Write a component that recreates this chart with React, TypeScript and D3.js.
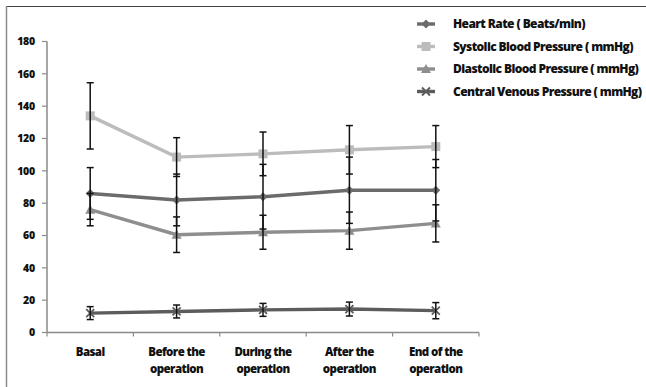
import React from "react";
import * as d3 from "d3";

const categories = [
  ["Basal"],
  ["Before the", "operation"],
  ["During the", "operation"],
  ["After the", "operation"],
  ["End of the", "operation"],
];
const seriesNames = [
  "Heart Rate ( Beats/min)",
  "Systolic Blood Pressure ( mmHg)",
  "Diastolic Blood Pressure ( mmHg)",
  "Central Venous Pressure ( mmHg)",
];
const heartRate = [86, 82, 84, 88, 88];
const heartRateSd = [16, 16, 20, 20.5, 19];
const systolic = [134, 108.5, 110.5, 113, 115];
const systolicSd = [20.5, 12, 13.5, 15, 13];
const diastolic = [76, 60.5, 62, 63, 67.5];
const diastolicSd = [10, 11, 10.5, 11.5, 11.5];
const cvp = [12, 13, 14, 14.5, 13.5];
const cvpSd = [4, 4, 4, 4.3, 5];
const yTicks = [0, 20, 40, 60, 80, 100, 120, 140, 160, 180];

const colors = ["#6b6b6b", "#bcbcbc", "#8e8e8e", "#5c5c5c"];
const markers = ["diamond", "square", "triangle", "x"];
const font = "'Open Sans', Lato, sans-serif";

function Marker({ type, x, y, color }: { type: string; x: number; y: number; color: string }) {
  if (type === "diamond") {
    const s = 4.5;
    return <path d={`M${x},${y - s}L${x + s},${y}L${x},${y + s}L${x - s},${y}Z`} fill={color} />;
  }
  if (type === "square") {
    const s = 4.5;
    return <rect x={x - s} y={y - s} width={2 * s} height={2 * s} fill={color} />;
  }
  if (type === "triangle") {
    const s = 5;
    return <path d={`M${x},${y - s}L${x + s},${y + s * 0.8}L${x - s},${y + s * 0.8}Z`} fill={color} />;
  }
  const s = 4;
  return (
    <path d={`M${x - s},${y - s}L${x + s},${y + s}M${x + s},${y - s}L${x - s},${y + s}`} stroke={color} strokeWidth={1.8} />
  );
}

export default function App() {
  const W = 646, H = 387;
  const left = 47, right = 479;
  const x = d3.scaleBand<number>().domain(d3.range(categories.length)).range([left, right]);
  const y = d3.scaleLinear().domain([0, 180]).range([332.5, 41.5]);
  const cx = (i: number) => (x(i) as number) + x.bandwidth() / 2;
  const data = [
    { v: heartRate, sd: heartRateSd },
    { v: systolic, sd: systolicSd },
    { v: diastolic, sd: diastolicSd },
    { v: cvp, sd: cvpSd },
  ];
  const line = d3.line<number>().x((_, i) => cx(i)).y((d) => y(d));
  const boundaries = d3.range(categories.length + 1).map((i) => left + i * x.bandwidth());
  const legendY = [24, 46.5, 69, 91.5];

  return (
    <svg width={W} height={H} style={{ position: "absolute", left: 0, top: 0 }}>
      <rect x={0} y={0} width={W} height={H} fill="#fff" />
      <line x1={6.5} y1={6.5} x2={W} y2={6.5} stroke="#444" strokeWidth={1.2} />
      <line x1={6.5} y1={6} x2={6.5} y2={H} stroke="#8a8a8a" strokeWidth={1.5} />
      {/* y axis */}
      <line x1={left} y1={y(180)} x2={left} y2={y(0)} stroke="#8a8a8a" strokeWidth={1.5} />
      {yTicks.map((t) => (
        <g key={t}>
          <line x1={left - 5} x2={left} y1={y(t)} y2={y(t)} stroke="#8a8a8a" strokeWidth={1.2} />
          <text x={35} y={y(t)} dy="0.35em" textAnchor="end" fontFamily={font} fontWeight={800} fontSize={10.5} letterSpacing={-0.2} fill="#111">
            {t}
          </text>
        </g>
      ))}
      {/* x axis */}
      <line x1={left} x2={right} y1={y(0)} y2={y(0)} stroke="#8a8a8a" strokeWidth={1.5} />
      {boundaries.map((b, i) => (
        <line key={i} x1={b} x2={b} y1={y(0)} y2={y(0) + 4} stroke="#8a8a8a" strokeWidth={1.2} />
      ))}
      {categories.map((c, i) => (
        <text key={i} x={cx(i)} textAnchor="middle" fontFamily={font} fontWeight={800} fontSize={11.5} letterSpacing={-0.6} fill="#111">
          {c.map((l, j) => (
            <tspan key={j} x={cx(i)} y={356 + j * 16.5}>
              {l}
            </tspan>
          ))}
        </text>
      ))}
      {/* lines */}
      {data.map((s, k) => (
        <g key={k}>
          <path d={line(s.v) as string} fill="none" stroke={colors[k]} strokeWidth={3.4} />
          {s.v.map((v, i) => (
            <Marker key={i} type={markers[k]} x={cx(i)} y={y(v)} color={colors[k]} />
          ))}
        </g>
      ))}
      {/* error bars */}
      {data.map((s, k) => (
        <g key={k}>
          {s.v.map((v, i) => {
            const xx = cx(i);
            const y1 = y(v + s.sd[i]);
            const y2 = y(v - s.sd[i]);
            return (
              <g key={i} stroke="#111" strokeWidth={1.5}>
                <line x1={xx} x2={xx} y1={y1} y2={y2} />
                <line x1={xx - 3.5} x2={xx + 3.5} y1={y1} y2={y1} />
                <line x1={xx - 3.5} x2={xx + 3.5} y1={y2} y2={y2} />
              </g>
            );
          })}
        </g>
      ))}
      {/* legend */}
      {seriesNames.map((n, k) => (
        <g key={k}>
          <line x1={417} x2={435} y1={legendY[k]} y2={legendY[k]} stroke={colors[k]} strokeWidth={3.4} />
          <Marker type={markers[k]} x={426} y={legendY[k]} color={colors[k]} />
          <text x={453} y={legendY[k]} dy="0.35em" fontFamily={font} fontWeight={800} fontSize={12} letterSpacing={-0.6} fill="#111">
            {n}
          </text>
        </g>
      ))}
    </svg>
  );
}
